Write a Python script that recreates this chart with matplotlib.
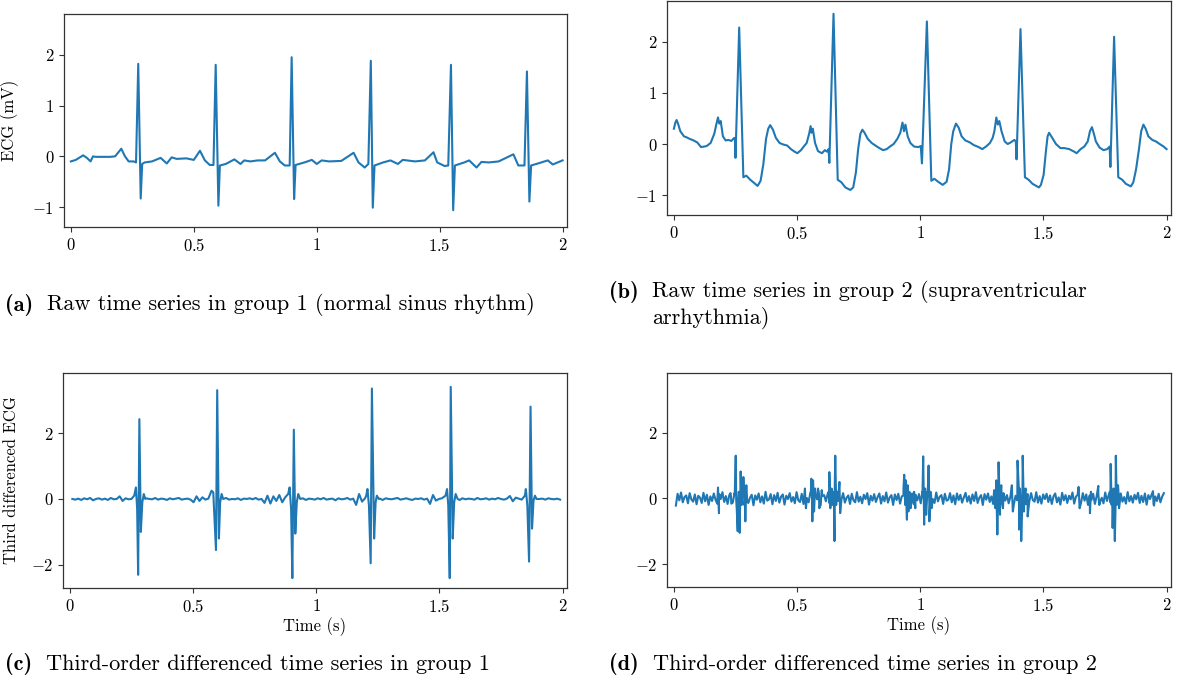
import numpy as np
import matplotlib.pyplot as plt

# ---------- data ----------
# (a) raw ECG, group 1: (time s, mV) key points
a_t = [0.000, 0.020, 0.050, 0.065, 0.080, 0.090, 0.100, 0.130, 0.160, 0.180, 0.205, 0.220, 0.235, 0.255, 0.265,
       0.274, 0.284, 0.290, 0.300, 0.330, 0.365, 0.390, 0.410, 0.430, 0.470, 0.500, 0.525, 0.545, 0.565, 0.580,
       0.589, 0.600, 0.606, 0.630, 0.665, 0.690, 0.705, 0.730, 0.760, 0.790, 0.830, 0.850, 0.870, 0.890,
       0.898, 0.908, 0.914, 0.950, 0.980, 1.000, 1.020, 1.050, 1.100, 1.150, 1.170, 1.195, 1.210,
       1.220, 1.228, 1.235, 1.270, 1.300, 1.330, 1.350, 1.400, 1.440, 1.475, 1.490, 1.520, 1.535,
       1.546, 1.555, 1.562, 1.600, 1.620, 1.650, 1.670, 1.700, 1.740, 1.800, 1.820, 1.845,
       1.855, 1.865, 1.872, 1.900, 1.940, 1.960, 1.980, 2.000]
a_v = [-0.10, -0.07, 0.02, -0.03, -0.10, 0.00, -0.01, -0.01, -0.01, 0.00, 0.15, 0.00, -0.10, -0.10, -0.12,
       1.82, -0.83, -0.15, -0.12, -0.10, -0.03, -0.14, -0.02, -0.05, -0.04, -0.07, 0.11, -0.08, -0.17, -0.17,
       1.80, -0.97, -0.18, -0.15, -0.06, -0.15, -0.08, -0.10, -0.08, -0.08, 0.07, -0.10, -0.18, -0.18,
       1.95, -0.84, -0.17, -0.12, -0.07, -0.15, -0.08, -0.10, -0.09, 0.07, -0.12, -0.22, -0.15,
       1.88, -1.01, -0.18, -0.12, -0.08, -0.15, -0.07, -0.10, -0.08, 0.08, -0.12, -0.19, -0.18,
       1.80, -1.06, -0.18, -0.12, -0.08, -0.22, -0.11, -0.12, -0.10, 0.04, -0.18, -0.18,
       1.67, -0.89, -0.18, -0.14, -0.08, -0.16, -0.12, -0.08]

# (b) raw ECG, group 2
b_t = [0.000, 0.006, 0.011, 0.018, 0.026, 0.041, 0.052, 0.064, 0.080, 0.095, 0.110, 0.123, 0.133, 0.149,
       0.164, 0.172, 0.179, 0.184, 0.190, 0.199, 0.210, 0.221, 0.233, 0.245, 0.248, 0.250, 0.265, 0.282,
       0.294, 0.310, 0.325, 0.340, 0.352, 0.363, 0.374, 0.383, 0.391, 0.402, 0.414, 0.429, 0.444, 0.460,
       0.475, 0.490, 0.501, 0.516, 0.527, 0.539, 0.549, 0.555, 0.559, 0.564, 0.573, 0.585, 0.601, 0.613,
       0.622, 0.628, 0.631, 0.648, 0.665, 0.680, 0.696, 0.716, 0.728, 0.739, 0.748, 0.757, 0.765, 0.774,
       0.787, 0.803, 0.818, 0.834, 0.849, 0.864, 0.877, 0.892, 0.907, 0.919, 0.928, 0.934, 0.940, 0.949,
       0.960, 0.975, 0.992, 1.002, 1.007, 1.027, 1.045, 1.057, 1.073, 1.091, 1.107, 1.117, 1.126, 1.134,
       1.145, 1.156, 1.168, 1.183, 1.202, 1.217, 1.237, 1.252, 1.267, 1.283, 1.294, 1.301, 1.309, 1.315,
       1.321, 1.330, 1.343, 1.355, 1.367, 1.382, 1.388, 1.391, 1.407, 1.425, 1.440, 1.456, 1.471, 1.482,
       1.490, 1.501, 1.510, 1.517, 1.523, 1.536, 1.551, 1.569, 1.585, 1.605, 1.625, 1.635, 1.651, 1.666,
       1.680, 1.689, 1.697, 1.705, 1.713, 1.728, 1.744, 1.759, 1.769, 1.772, 1.787, 1.804, 1.820, 1.835,
       1.855, 1.865, 1.876, 1.888, 1.897, 1.906, 1.915, 1.926, 1.942, 1.957, 1.972, 1.988, 2.000]
b_v = [0.30, 0.42, 0.47, 0.38, 0.25, 0.15, 0.13, 0.10, 0.07, 0.03, -0.06, -0.05, -0.04, 0.02,
       0.20, 0.38, 0.52, 0.40, 0.45, 0.15, 0.07, 0.08, 0.06, 0.12, 0.10, -0.27, 2.28, -0.65,
       -0.62, -0.70, -0.76, -0.82, -0.72, -0.40, 0.10, 0.30, 0.37, 0.28, 0.12, 0.02, -0.01, -0.03,
       -0.10, -0.15, -0.18, -0.12, -0.05, 0.02, 0.20, 0.35, 0.22, 0.30, 0.02, -0.14, -0.18, -0.12,
       -0.15, -0.10, -0.37, 2.55, -0.70, -0.75, -0.85, -0.90, -0.85, -0.55, -0.10, 0.20, 0.28, 0.22,
       0.10, 0.02, -0.03, -0.08, -0.12, -0.10, -0.05, 0.00, 0.10, 0.22, 0.42, 0.25, 0.38, 0.15,
       0.02, -0.05, -0.06, -0.04, -0.38, 2.40, -0.72, -0.68, -0.74, -0.80, -0.74, -0.50, 0.00, 0.25,
       0.40, 0.32, 0.15, 0.07, 0.03, -0.02, -0.06, -0.10, -0.05, 0.02, 0.12, 0.25, 0.52, 0.38,
       0.45, 0.25, 0.05, 0.00, 0.03, 0.08, 0.05, -0.30, 2.25, -0.65, -0.70, -0.78, -0.82, -0.85,
       -0.80, -0.60, -0.15, 0.15, 0.22, 0.12, 0.00, -0.08, -0.08, -0.10, -0.15, -0.18, -0.10, -0.05,
       0.05, 0.25, 0.33, 0.20, 0.05, -0.07, -0.12, -0.10, -0.05, -0.45, 2.10, -0.65, -0.70, -0.78,
       -0.83, -0.75, -0.50, -0.10, 0.25, 0.38, 0.30, 0.15, 0.08, 0.05, 0.00, -0.05, -0.10]

# (c) third-order differenced, group 1
# baseline samples (1/100 units) every 0.012 s starting at 0.01 s
c_base_t0, c_base_dt = 0.01, 0.012
c_base = [0, -2, 1, -3, 2, -1, 3, -4, 0, 2, -2, 1, -3, 3, -1, 0,
          8, -6,
          2, -1, 0, 3, -2, 1, -4, 2, 0, -1, 3, -2, 1, 0, -3, 2, -1, 1, 3, -2, 0, 1, -2,
          -10, 8, -6, 5,
          -2, 1, 0, -3, 2, -1, 1, 3, -2, 0, -1, 2, -3, 1, 0, 2, -1, 3, -2, 0,
          -12, 10, -14, 8, -6, 12, -10, 5,
          1, -2, 3, 0, -1, 2, -3, 1, 0, -2, 2, -1, 3, -2, 0, 1, -4, 2, -1, 0, 3, -2, 1,
          -18, 15, -8,
          2, -1, 0, 3, -2, 1, -3, 2, 0, -1, 1, 3, -2, 0, 2, -1, -3, 1, 0, 2, -2, 1,
          -15, 12, -5,
          0, 2, -1, 3, -2, 1, 0, -3, 2, -1, 1, 0, -2, 3, -1, 0, 2, -2, 1, -1, 3, 0, -2, 1,
          9, -7, 4,
          1, -2, 0, 3, -1, 2, -3, 0, 1, -2, 2, 0, -1, 1, -2]
# QRS complexes
c_qrs_t = [0.261, 0.268, 0.273, 0.277, 0.282, 0.288, 0.294, 0.300, 0.306,
           0.575, 0.582, 0.593, 0.598, 0.605, 0.610, 0.616, 0.622,
           0.886, 0.892, 0.898, 0.903, 0.909, 0.915, 0.921, 0.927, 0.935,
           1.203, 1.208, 1.214, 1.221, 1.226, 1.235, 1.241, 1.246, 1.254,
           1.525, 1.531, 1.536, 1.542, 1.546, 1.554, 1.560, 1.566, 1.574,
           1.847, 1.851, 1.857, 1.864, 1.870, 1.876, 1.882, 1.888, 1.894]
c_qrs_v = [0.10, 0.35, -0.30, -2.30, 2.42, -1.00, -0.10, 0.15, 0.00,
           0.25, 0.20, -1.55, 3.30, -1.20, -0.10, 0.15, 0.00,
           0.15, 0.35, -0.30, -2.40, 2.10, -1.05, -0.10, 0.15, 0.00,
           0.10, 0.30, -0.20, -1.95, 3.35, -1.20, -0.10, 0.10, 0.00,
           0.10, 0.30, -0.20, -2.40, 3.40, -1.20, -0.10, 0.15, 0.00,
           0.10, 0.30, -0.20, -1.90, 2.80, -0.90, -0.05, 0.10, 0.00]
c_qrs_spans = [(0.258, 0.309), (0.572, 0.625), (0.883, 0.938), (1.200, 1.257), (1.522, 1.577), (1.844, 1.897)]

# (d) third-order differenced, group 2
# baseline samples (1/100 units) every 0.007 s starting at 0.008 s
d_base_t0, d_base_dt = 0.008, 0.007
d_base = [-22, 14, -6, 18, -12, 4, 9, -15, 16, -3, -10, 12, -18, 8, 2, -14, 17, -9, 11, -20,
          6, -8, 15, -4, -16, 13, -2, 19, -11, 7, -17, 10, 3, -13, 16, -6, -19, 12, -5, 14,
          -9, 18, -14, 2, 11, -21, 9, -4, 15, -12, 6, -16, 20, -7, -3, 13, -18, 10, -8, 17,
          -13, 5, 12, -19, 8, -2, 16, -10, 4, -15, 19, -6, -11, 14, -17, 9, 1, -12, 18, -5,
          -16, 11, -3, 15, -20, 7, 10, -9, 13, -14, 3, 17, -18, 6, -8, 12, -4, 16, -13, 2,
          9, -17, 14, -6, -12, 19, -10, 5, -15, 11, -2, 16, -19, 8, -7, 13, -11, 4, 15, -16,
          7, -9, 18, -13, 3, 10, -20, 12, -5, 14, -16, 6, 9, -12, 17, -8, -3, 15, -18, 11,
          -6, 13, -15, 4, 16, -11, 8, -19, 12, -2, -14, 18, -9, 5, 10, -17, 14, -7, -4, 16,
          -12, 9, -18, 15, -5, 11, -13, 3, 17, -10, 7, -16, 12, -8, 19, -14, 2, 10, -20, 13,
          -4, 15, -11, 6, -17, 14, -9, 18, -3, -12, 16, -7, 10, -15, 5, 12, -19, 8, -6, 17,
          -14, 4, 11, -18, 13, -8, 16, -5, -10, 19, -13, 7, -16, 12, -2, 14, -11, 9, -17, 6,
          15, -12, 3, -19, 17, -6, 10, -14, 8, -3, 18, -16, 5, 11, -9, -13, 16, -7, 12, -20,
          9, -5, 14, -17, 6, 13, -11, 2, -15, 18, -8, 10, -12, 16, -4, -18, 12, -6, 15, -10,
          4, -16, 19, -9, 7, -13, 11, -3, 17, -14, 8, -11, 15, -19, 10, -2, 13, -17, 6, -8,
          14, -12, 5, 16]
d_spk_t = [0.179, 0.183, 0.187, 0.230, 0.233,
           0.247, 0.251, 0.255, 0.259, 0.263, 0.267, 0.271, 0.275, 0.279, 0.282, 0.286, 0.290, 0.294, 0.298,
           0.532, 0.536, 0.556, 0.558, 0.562, 0.565, 0.569, 0.573, 0.585, 0.590, 0.600,
           0.628, 0.631, 0.635, 0.640, 0.644, 0.650, 0.652, 0.655, 0.659, 0.664, 0.672, 0.675,
           0.932, 0.935, 0.939, 0.942, 0.946, 0.949, 0.952, 0.956, 0.961, 0.975, 0.980,
           1.009, 1.012, 1.016, 1.020, 1.024, 1.029, 1.034, 1.037, 1.042, 1.046,
           1.300, 1.305, 1.309, 1.313, 1.318, 1.324, 1.329, 1.336,
           1.372, 1.376, 1.395, 1.401, 1.405, 1.410, 1.416, 1.421, 1.428, 1.436,
           1.643, 1.647, 1.689, 1.693, 1.723, 1.727,
           1.769, 1.773, 1.777, 1.781, 1.785, 1.790, 1.794, 1.798, 1.803, 1.807,
           1.945, 1.949]
d_spk_v = [0.33, -0.45, 0.10, 0.16, -0.16,
           0.10, 1.30, -0.30, -1.00, 0.20, -1.05, 0.82, -0.20, 0.50, 0.65, -0.20, -0.70, 0.40, -0.10,
           0.30, -0.30, 0.20, 0.60, -0.70, 0.55, -0.40, 0.30, 0.30, -0.30, 0.25,
           0.20, 0.80, -0.30, 0.30, -0.20, 0.20, -1.30, 1.30, -0.20, 0.20, 0.50, -0.45,
           0.30, 0.72, -0.20, 0.55, -0.65, 0.40, -0.40, 0.20, -0.30, 0.20, -0.30,
           0.20, 1.28, -0.80, 0.30, -0.50, 0.20, 1.00, -0.70, 0.20, -0.30,
           0.25, -0.30, 0.55, -1.10, 1.10, -0.50, 0.40, -0.30,
           0.40, -0.40, 1.15, -0.95, 0.30, -1.30, 1.30, -0.40, 0.30, -0.55,
           0.35, -0.30, -0.45, 0.20, 0.38, -0.20,
           0.20, 1.05, -0.20, -0.90, 0.30, -1.30, 1.30, -0.20, 0.40, -0.30,
           0.22, -0.22]

x_ticks = [0, 0.5, 1, 1.5, 2]
x_ticklabels = ['$0$', '$0.5$', '$1$', '$1.5$', '$2$']

# ---------- assemble the sampled series ----------
c_bt = c_base_t0 + c_base_dt * np.arange(len(c_base))
c_bv = np.array(c_base) / 100.0
keep = np.ones(len(c_bt), bool)
for lo, hi in c_qrs_spans:
    keep &= ~((c_bt >= lo) & (c_bt <= hi))
c_t = np.concatenate([c_bt[keep], c_qrs_t])
c_v = np.concatenate([c_bv[keep], c_qrs_v])
o = np.argsort(c_t)
c_t, c_v = c_t[o], c_v[o]

d_bt = d_base_t0 + d_base_dt * np.arange(len(d_base))
d_t = np.concatenate([d_bt, d_spk_t])
d_v = np.concatenate([np.array(d_base) / 100.0, d_spk_v])
o = np.argsort(d_t)
d_t, d_v = d_t[o], d_v[o]

# ---------- figure ----------
plt.rcParams['mathtext.fontset'] = 'cm'
plt.rcParams['font.family'] = 'cmr10'
plt.rcParams['axes.unicode_minus'] = False

W, H = 1179, 681
fig = plt.figure(figsize=(W / 100, H / 100), dpi=100)


def box(l, t, r, b):
    return [l / W, 1 - b / H, (r - l) / W, (b - t) / H]


ax_a = fig.add_axes(box(64, 14, 567, 227))
ax_b = fig.add_axes(box(667, 1, 1171, 215))
ax_c = fig.add_axes(box(63, 373, 567, 588))
ax_d = fig.add_axes(box(667, 373, 1171, 587))

ax_a.plot(a_t, a_v, color='#1f77b4', lw=1.5)
ax_b.plot(b_t, b_v, color='#1f77b4', lw=1.5)
ax_c.plot(c_t, c_v, color='#1f77b4', lw=1.5)
ax_d.plot(d_t, d_v, color='#1f77b4', lw=1.5)

for ax in (ax_a, ax_b):
    ax.set_ylim(-1.39, 2.80)
    ax.set_yticks([-1, 0, 1, 2])
    ax.set_yticklabels(['$-1$', '$0$', '$1$', '$2$'])
for ax in (ax_c, ax_d):
    ax.set_ylim(-2.70, 3.82)
    ax.set_yticks([-2, 0, 2])
    ax.set_yticklabels(['$-2$', '$0$', '$2$'])
    ax.set_xlabel('Time (s)', fontsize=12, labelpad=2)

for ax in (ax_a, ax_b, ax_c, ax_d):
    ax.set_xlim(-0.028, 2.018)
    ax.set_xticks(x_ticks)
    ax.set_xticklabels(x_ticklabels)
    ax.tick_params(labelsize=12, length=3.5, width=0.8, color='#333333')
    for s in ax.spines.values():
        s.set_color('#333333')
        s.set_linewidth(0.9)

ax_a.set_ylabel('ECG (mV)', fontsize=12)
ax_a.yaxis.set_label_coords(-0.089, 0.5)
ax_c.set_ylabel('Third differenced ECG', fontsize=12)
ax_c.yaxis.set_label_coords(-0.087, 0.5)


def caption(x_tag, x_txt, y, tag, lines):
    fig.text(x_tag / W, 1 - y / H, tag, fontsize=16, family='cmb10', va='center')
    for i, ln in enumerate(lines):
        fig.text(x_txt / W, 1 - (y + 26 * i) / H, ln, fontsize=16, va='center')


caption(5, 47, 305, '(a)', ['Raw time series in group 1 (normal sinus rhythm)'])
caption(609, 652, 292, '(b)', ['Raw time series in group 2 (supraventricular', 'arrhythmia)'])
caption(5, 46, 664, '(c)', ['Third-order differenced time series in group 1'])
caption(609, 653, 664, '(d)', ['Third-order differenced time series in group 2'])

fig.savefig('out.png', dpi=100)
